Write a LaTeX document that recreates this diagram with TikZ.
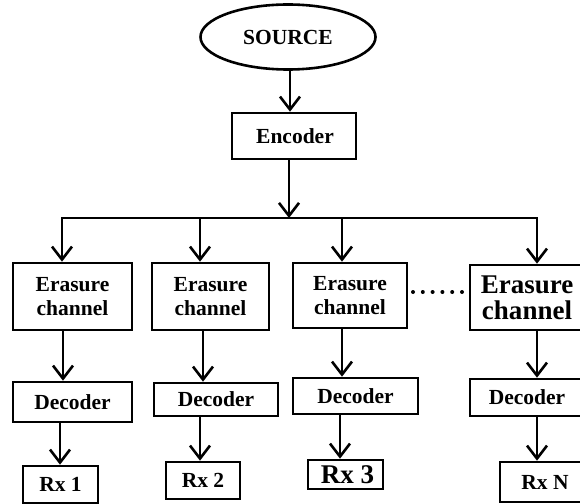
\documentclass[tikz,border=0pt]{standalone}
\usepackage{fontspec}
\setmainfont{Liberation Serif}
\usetikzlibrary{arrows.meta,shapes.geometric}
\begin{document}
\begin{tikzpicture}[x=1bp,y=-1bp,
  box/.style={draw,line width=2.6bp,rectangle,inner sep=0pt,align=center,font=\fontsize{21.5bp}{24bp}\selectfont\bfseries},
  bigbox/.style={box,font=\fontsize{27bp}{26bp}\selectfont\bfseries},
  ln/.style={line width=2.6bp},
  arr/.style={ln,-{Straight Barb[length=13bp,width=20bp,line width=2.6bp]}}]
\clip (0,0) rectangle (580,504);
\useasboundingbox (0,0) rectangle (580,504);
% nodes
\node[box,ellipse,minimum width=175bp,minimum height=65bp] (src) at (288,37) {SOURCE};
\node[box,minimum width=124bp,minimum height=46bp] (enc) at (294,136) {\hspace*{2bp}Encoder};
\node[box,minimum width=119bp,minimum height=67bp] (E1) at (72.5,296.5) {Erasure\\channel};
\node[box,minimum width=117bp,minimum height=67bp] (E2) at (210.5,296.5) {Erasure\\channel};
\node[box,minimum width=114bp,minimum height=65bp] (E3) at (350,295.5) {Erasure\\channel};
\node[bigbox,minimum width=114bp,minimum height=65bp] (E4) at (527,297.5) {Erasure\\channel};
\node[box,minimum width=119bp,minimum height=40bp] (D1) at (72.5,402) {Decoder};
\node[box,minimum width=124bp,minimum height=33bp] (D2) at (216,399.5) {Decoder};
\node[box,minimum width=125bp,minimum height=36bp] (D3) at (355.5,396) {Decoder};
\node[box,minimum width=114bp,minimum height=37bp] (D4) at (527,397.5) {Decoder};
\node[box,minimum width=75bp,minimum height=37bp] (R1) at (60.5,484.5) {Rx 1};
\node[box,minimum width=74bp,minimum height=37bp] (R2) at (203,480.5) {Rx 2};
\node[box,minimum width=75bp,minimum height=29bp,font=\fontsize{27bp}{28bp}\selectfont\bfseries] (R3) at (345.5,474.5) {\hspace*{4bp}Rx 3};
\node[box,minimum width=90bp,minimum height=40bp] (RN) at (545,482) {Rx N};
% column coordinates
\coordinate (cs) at (290,0);
\coordinate (ce) at (289,218);
\coordinate (s1) at (62,218);
\coordinate (s2) at (200,218);
\coordinate (s3) at (342,218);
\coordinate (s4) at (537,218);
\coordinate (x1) at (63,0);
\coordinate (y1) at (60,0);
\coordinate (x2) at (203,0);
\coordinate (y2) at (200,0);
\coordinate (x3) at (342,0);
\coordinate (y3) at (340,0);
\coordinate (x4) at (537,0);
% connectors
\draw[arr] (src.south -| cs) -- (enc.north -| cs);
\draw[arr] (enc.south -| ce) -- (ce);
\draw[ln,line cap=rect] (s1) -- (s4);
\draw[arr] (s1) -- (s1 |- E1.north);
\draw[arr] (s2) -- (s2 |- E2.north);
\draw[arr] (s3) -- (s3 |- E3.north);
\draw[arr] (s4) -- (s4 |- E4.north);
\draw[arr] (E1.south -| x1) -- (D1.north -| x1);
\draw[arr] (D1.south -| y1) -- (R1.north -| y1);
\draw[arr] (E2.south -| x2) -- (D2.north -| x2);
\draw[arr] (D2.south -| y2) -- (R2.north -| y2);
\draw[arr] (E3.south -| x3) -- (D3.north -| x3);
\draw[arr] (D3.south -| y3) -- (R3.north -| y3);
\draw[arr] (E4.south -| x4) -- (D4.north -| x4);
\draw[arr] (D4.south -| x4) -- (RN.north -| x4);
% dots
\coordinate (d1) at (413,292);
\coordinate (d2) at (463,292);
\draw[line width=4bp,line cap=round,dash pattern=on 0bp off 9.8bp] (d1) -- (d2);
\end{tikzpicture}
\end{document}
